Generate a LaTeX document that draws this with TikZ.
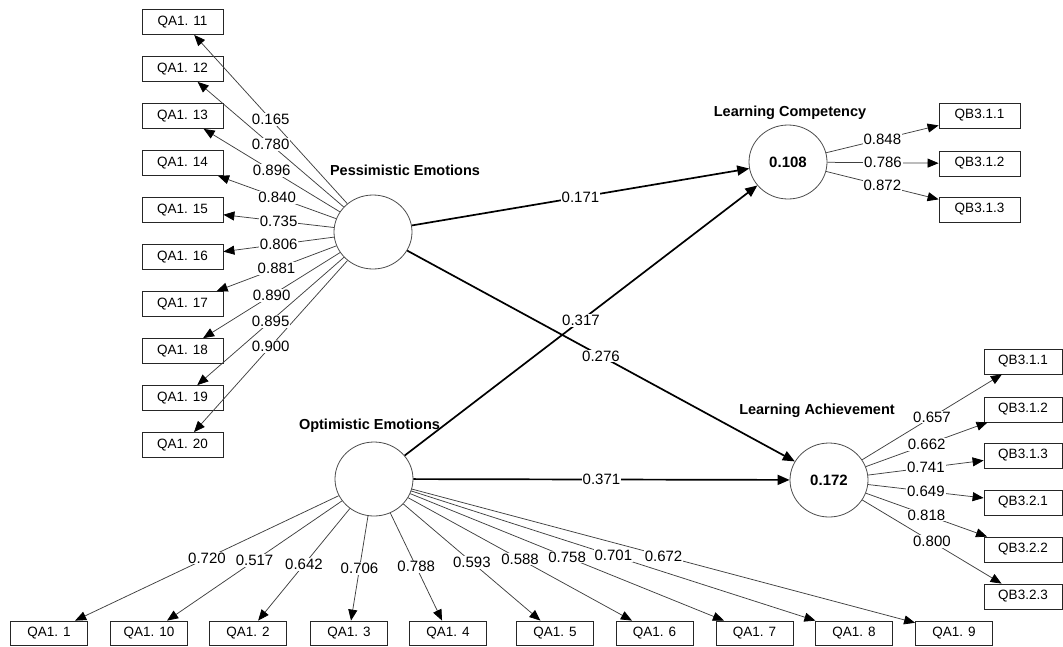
\documentclass[tikz,border=0pt]{standalone}
\usepackage{fontspec}
\setmainfont{Liberation Sans}
\usetikzlibrary{arrows.meta,shapes.geometric}
\begin{document}
\begin{tikzpicture}[x=1pt,y=-1pt,
 ind/.style={draw=black!85,line width=0.8pt,minimum width=81pt,minimum height=25pt,inner sep=0pt,font=\fontsize{13.5}{14}\selectfont},
 indb/.style={ind,minimum width=77pt,minimum height=24pt},
 indr/.style={ind,minimum width=78pt},
 lat/.style={draw=black!70,line width=0.8pt,ellipse,minimum width=78pt,minimum height=74pt,inner sep=0pt,font=\bfseries\fontsize{15}{16}\selectfont},
 ttl/.style={font=\bfseries\fontsize{14.5}{16}\selectfont,inner sep=0pt},
 meas/.style={draw=black!75,line width=0.75pt,-{Triangle[length=11pt,width=9pt,color=black]}},
 struct/.style={draw=black,line width=1.7pt,-{Triangle[length=12pt,width=10pt]}},
 lbl/.style={fill=white,inner sep=1pt,font=\fontsize{15}{16}\selectfont,midway}
]
\useasboundingbox (0,0) rectangle (1063,646);

% latent variables
\node[lat] (PE) at (373,232) {};
\node[lat] (OE) at (374,479) {};
\node[lat] (LC) at (788,162) {0.108};
\node[lat] (LA) at (829,480) {0.172};

\node[ttl] (tPE) at (405,170) {Pessimistic Emotions};
\node[ttl] (tOE) at (369.5,426) {Optimistic Emotions};
\node[ttl] (tLC) at (790,113) {Learning Competency};
\node[ttl] (tLA) at (817,411) {Learning Achievement};

% indicator boxes
\foreach \n/\y in {11/22,12/69,13/116,14/163,15/210,16/257,17/304,18/351,19/398,20/445}
  \node[ind] (p\n) at (182.5,\y) {QA1. \n};
\foreach \n/\x in {1/49,10/149,2/248,3/349,4/448,5/555,6/654.5,7/754.5,8/854,9/954}
  \node[indb] (o\n) at (\x,633) {QA1. \n};
\foreach \i/\t/\y in {1/3.1.1/115.5,2/3.1.2/163.5,3/3.1.3/209.5}
  \node[ind] (c\i) at (979.5,\y) {QB\t};
\foreach \i/\t/\y in {1/3.1.1/361.5,2/3.1.2/409.5,3/3.1.3/455.5,4/3.2.1/502.5,5/3.2.2/549.5,6/3.2.3/596.5}
  \node[indr] (a\i) at (1023,\y) {QB\t};

% lines
\foreach \n in {11,...,20} \draw[meas] (PE) -- (p\n);
\foreach \n in {1,...,10} \draw[meas] (OE) -- (o\n);
\foreach \i in {1,2,3} \draw[meas] (LC) -- (c\i);
\foreach \i in {1,...,6} \draw[meas] (LA) -- (a\i);
\draw[struct] (PE) -- (LC);
\draw[struct] (PE) -- (LA);
\draw[struct] (OE) -- (LC);
\draw[struct] (OE) -- (LA);

% labels
\foreach \n/\v in {11/0.165,12/0.780,13/0.896,14/0.840,15/0.735,16/0.806,17/0.881,18/0.890,19/0.895,20/0.900}
  \path (PE) -- node[lbl]{\v} (p\n);
\foreach \n/\v in {1/0.720,10/0.517,2/0.642,3/0.706,4/0.788,5/0.593,6/0.588,7/0.758,8/0.701,9/0.672}
  \path (OE) -- node[lbl]{\v} (o\n);
\foreach \i/\v in {1/0.848,2/0.786,3/0.872}
  \path (LC) -- node[lbl]{\v} (c\i);
\foreach \i/\v in {1/0.657,2/0.662,3/0.741,4/0.649,5/0.818,6/0.800}
  \path (LA) -- node[lbl]{\v} (a\i);
\path (PE) -- node[lbl]{0.171} (LC);
\path (PE) -- node[lbl]{0.276} (LA);
\path (OE) -- node[lbl]{0.317} (LC);
\path (OE) -- node[lbl]{0.371} (LA);
\end{tikzpicture}
\end{document}
